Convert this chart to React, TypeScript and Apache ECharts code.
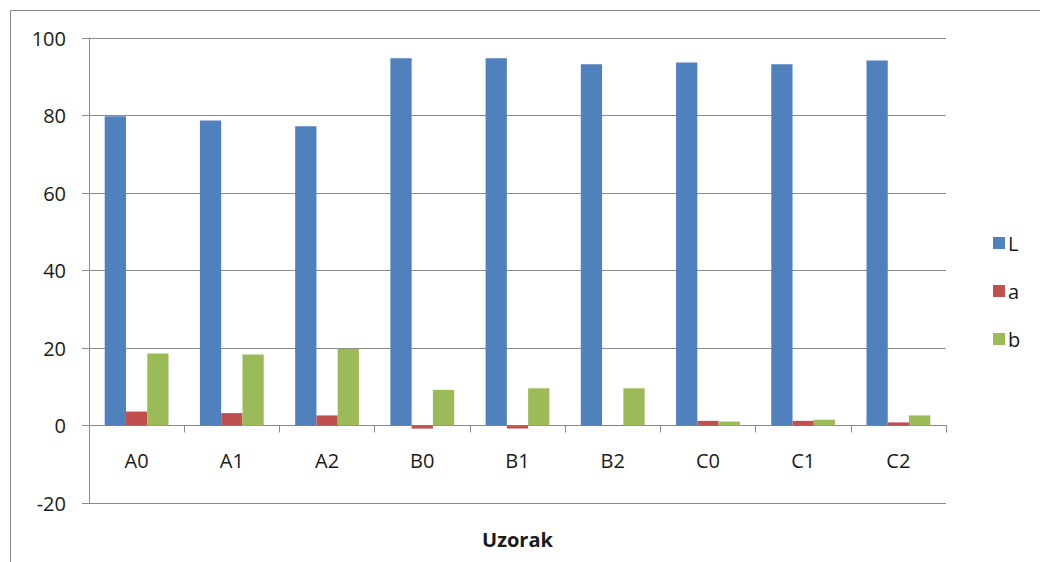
import React, { useEffect, useRef } from "react";
import * as echarts from "echarts";

const categories = ["A0", "A1", "A2", "B0", "B1", "B2", "C0", "C1", "C2"];
const seriesL = [79.8, 78.7, 77.2, 94.8, 94.8, 93.2, 93.7, 93.2, 94.2];
const seriesA = [3.6, 3.2, 2.6, -0.8, -0.8, -0.1, 1.2, 1.2, 0.8];
const seriesB = [18.6, 18.3, 19.8, 9.2, 9.6, 9.6, 1.0, 1.5, 2.6];
const seriesNames = ["L", "a", "b"];
const colors = ["#4F81BD", "#C0504D", "#9BBB59"];

const FONT = "'Open Sans', 'DejaVu Sans', sans-serif";

export default function App() {
  const ref = useRef<HTMLDivElement>(null);
  useEffect(() => {
    if (!ref.current) return;
    const chart = echarts.init(ref.current, undefined, { renderer: "svg" });
    const data = [seriesL, seriesA, seriesB];
    chart.setOption({
      animation: false,
      backgroundColor: "#ffffff",
      textStyle: { fontFamily: FONT },
      graphic: [
        {
          type: "rect",
          shape: { x: 10.5, y: 10.5, width: 1100, height: 700 },
          style: { fill: "none", stroke: "#8a8a8a", lineWidth: 1 },
          silent: true,
        },
      ],
      grid: {
        left: 89,
        top: 38,
        right: 94,
        bottom: 59,
        containLabel: false,
        outerBoundsMode: "none",
      },
      legend: {
        orient: "vertical",
        left: 988,
        top: 228,
        itemWidth: 12,
        itemHeight: 12,
        itemGap: 28,
        icon: "rect",
        data: seriesNames,
        textStyle: { fontFamily: FONT, fontSize: 20, color: "#1a1a1a", padding: [0, 0, 0, -2] },
      },
      xAxis: {
        type: "category",
        data: categories,
        name: "Uzorak",
        nameLocation: "middle",
        nameGap: 104,
        offset: -77.5,
        nameTextStyle: { fontFamily: FONT, fontSize: 20, fontWeight: "bold", color: "#1a1a1a" },
        axisLine: { onZero: false, lineStyle: { color: "#8a8a8a", width: 1 } },
        axisTick: { show: true, length: 7, lineStyle: { color: "#8a8a8a" } },
        axisLabel: { fontFamily: FONT, fontSize: 20, color: "#1a1a1a", margin: 25 },
        splitLine: { show: false },
      },
      yAxis: {
        type: "value",
        min: -20,
        max: 100,
        interval: 20,
        axisLine: { show: true, lineStyle: { color: "#8a8a8a", width: 1 } },
        axisTick: { show: true, length: 7, lineStyle: { color: "#8a8a8a" } },
        axisLabel: { fontFamily: FONT, fontSize: 20, color: "#1a1a1a", margin: 23 },
        splitLine: { show: true, lineStyle: { color: "#8a8a8a", width: 1 } },
      },
      series: seriesNames.map((name, i) => ({
        name,
        type: "bar",
        data: data[i],
        barGap: "0%",
        barCategoryGap: "33%",
        itemStyle: { color: colors[i] },
      })),
    });
    return () => chart.dispose();
  }, []);
  return (
    <div
      ref={ref}
      style={{ position: "fixed", left: 0, top: 0, width: 1040, height: 562 }}
    />
  );
}
